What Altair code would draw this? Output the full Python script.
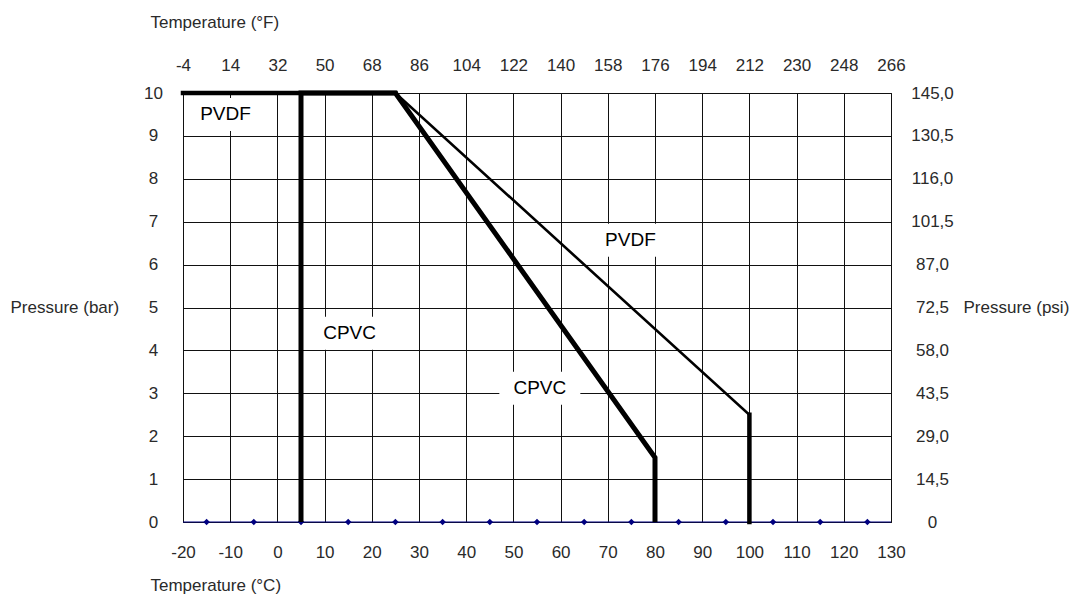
import altair as alt
import pandas as pd

# ---- data ----
temp_c_ticks = [-20, -10, 0, 10, 20, 30, 40, 50, 60, 70, 80, 90, 100, 110, 120, 130]
bar_ticks = [0, 1, 2, 3, 4, 5, 6, 7, 8, 9, 10]

cpvc_temp = [5, 5, 25, 80, 80]
cpvc_bar = [0, 10, 10, 1.5, 0]

pvdf_temp = [-20, 25, 100, 100]
pvdf_bar = [10, 10, 2.5, 0]

marker_temp = [-15, -5, 5, 15, 25, 35, 45, 55, 65, 75, 85, 95, 105, 115, 125]
marker_bar = [0, 0, 0, 0, 0, 0, 0, 0, 0, 0, 0, 0, 0, 0, 0]

label_text = ["PVDF", "CPVC", "PVDF", "CPVC"]
label_temp = [-11, 15.3, 74.8, 55.6]
label_bar = [9.5, 4.4, 6.57, 3.12]

# ---- tables ----
cpvc = pd.DataFrame({"t": cpvc_temp, "b": cpvc_bar, "o": range(len(cpvc_temp))})
pvdf = pd.DataFrame({"t": pvdf_temp, "b": pvdf_bar, "o": range(len(pvdf_temp))})
pvdf_seg = pd.DataFrame({
    "t": pvdf_temp[:-1], "b": pvdf_bar[:-1],
    "t2": pvdf_temp[1:], "b2": pvdf_bar[1:],
})
markers = pd.DataFrame({"t": marker_temp, "b": marker_bar})
labels = pd.DataFrame({"txt": label_text, "t": label_temp, "b": label_bar})

FONT = "Liberation Sans"
TXT = "#2a2a2a"
xs = alt.Scale(domain=[-20, 130], nice=False, zero=False)
ys = alt.Scale(domain=[0, 10], nice=False, zero=False)

bottom_axis = alt.Axis(
    orient="bottom", values=temp_c_ticks, grid=True, gridColor="#111", gridWidth=1,
    gridOpacity=1, ticks=False, tickSize=0, domain=False, zindex=0,
    labelExpr="'' + datum.value", labelBaseline="middle", labelAlign="center",
    labelPadding=30, labelFontSize=17, labelColor=TXT, labelFont=FONT,
    title="Temperature (°C)", titleFont=FONT, titleFontSize=17, titleFontWeight="normal",
    titleColor=TXT, titleAlign="left", titleBaseline="middle", titleX=-33, titleY=63,
    labelOverlap=False,
)
left_axis = alt.Axis(
    orient="left", values=bar_ticks, grid=True, gridColor="#111", gridWidth=1,
    gridOpacity=1, ticks=False, tickSize=0, domain=False, zindex=0,
    labelExpr="'' + datum.value", labelBaseline="middle", labelAlign="center",
    labelPadding=30, labelFontSize=17, labelColor=TXT, labelFont=FONT,
    title="Pressure (bar)", titleFont=FONT, titleFontSize=17, titleFontWeight="normal",
    titleColor=TXT, titleAngle=0, titleAlign="left", titleBaseline="middle",
    titleX=-173, titleY=214, labelOverlap=False,
)
top_axis = alt.Axis(
    orient="top", values=temp_c_ticks, grid=False, ticks=False, tickSize=0, domain=False,
    labelExpr="'' + (datum.value * 9 / 5 + 32)", labelBaseline="middle", labelAlign="center",
    labelPadding=28, labelFontSize=17, labelColor=TXT, labelFont=FONT,
    title="Temperature (°F)", titleFont=FONT, titleFontSize=17, titleFontWeight="normal",
    titleColor=TXT, titleAlign="left", titleBaseline="middle", titleX=-33, titleY=-71,
    labelOverlap=False,
)
right_axis = alt.Axis(
    orient="right", values=bar_ticks, grid=False, ticks=False, tickSize=0, domain=False,
    labelExpr="datum.value == 0 ? '0' : replace(format(datum.value * 14.5, '.1f'), '.', ',')",
    labelBaseline="middle", labelAlign="center",
    labelPadding=41, labelFontSize=17, labelColor=TXT, labelFont=FONT,
    title="Pressure (psi)", titleFont=FONT, titleFontSize=17, titleFontWeight="normal",
    titleColor=TXT, titleAngle=0, titleAlign="left", titleBaseline="middle",
    titleX=72, titleY=214, labelOverlap=False,
)

# markers layer hosts bottom/left axes with grid
marker_layer = alt.Chart(markers).mark_point(
    shape="diamond", filled=True, color="#000080", size=42, opacity=1
).encode(
    x=alt.X("t:Q", scale=xs, axis=bottom_axis),
    y=alt.Y("b:Q", scale=ys, axis=left_axis),
)

baseline = alt.Chart(markers).transform_aggregate(b="min(b)").mark_rule(
    color="#000080", strokeWidth=1.2
).encode(y=alt.Y("b:Q", scale=ys, axis=None))

boxes = alt.Chart(labels).mark_point(
    shape="M-1.35,-0.55H1.35V0.55H-1.35Z", filled=True, color="white",
    size=3600, opacity=1, strokeWidth=0
).encode(
    x=alt.X("t:Q", scale=xs, axis=None),
    y=alt.Y("b:Q", scale=ys, axis=None),
)

pvdf_line = alt.Chart(pvdf).mark_line(
    color="black", strokeWidth=2.6, strokeJoin="miter"
).encode(
    x=alt.X("t:Q", scale=xs, axis=None),
    y=alt.Y("b:Q", scale=ys, axis=None),
    order="o:Q",
)

pvdf_flat = alt.Chart(pvdf_seg).transform_filter(
    "datum.t == datum.t2 || datum.b == datum.b2"
).mark_rule(color="black", strokeWidth=4.5, strokeCap="square").encode(
    x=alt.X("t:Q", scale=xs, axis=None),
    x2="t2:Q",
    y=alt.Y("b:Q", scale=ys, axis=None),
    y2="b2:Q",
)

cpvc_line = alt.Chart(cpvc).mark_line(
    color="black", strokeWidth=5, strokeJoin="miter"
).encode(
    x=alt.X("t:Q", scale=xs, axis=None),
    y=alt.Y("b:Q", scale=ys, axis=None),
    order="o:Q",
)

texts = alt.Chart(labels).mark_text(
    font=FONT, fontSize=19, color="black", align="center", baseline="middle"
).encode(
    x=alt.X("t:Q", scale=xs, axis=top_axis),
    y=alt.Y("b:Q", scale=ys, axis=right_axis),
    text="txt:N",
)

chart = alt.layer(
    marker_layer, baseline, boxes, pvdf_line, pvdf_flat, cpvc_line, texts
).resolve_scale(
    x="independent", y="independent"
).properties(
    width=708, height=429,
    autosize=alt.AutoSizeParams(type="none"),
    padding={"left": 175, "top": 85, "right": 183, "bottom": 74},
    background="white",
).configure_view(
    stroke="black", strokeWidth=1
)

chart.save("out.html", embed_options={"renderer": "svg", "actions": False})
